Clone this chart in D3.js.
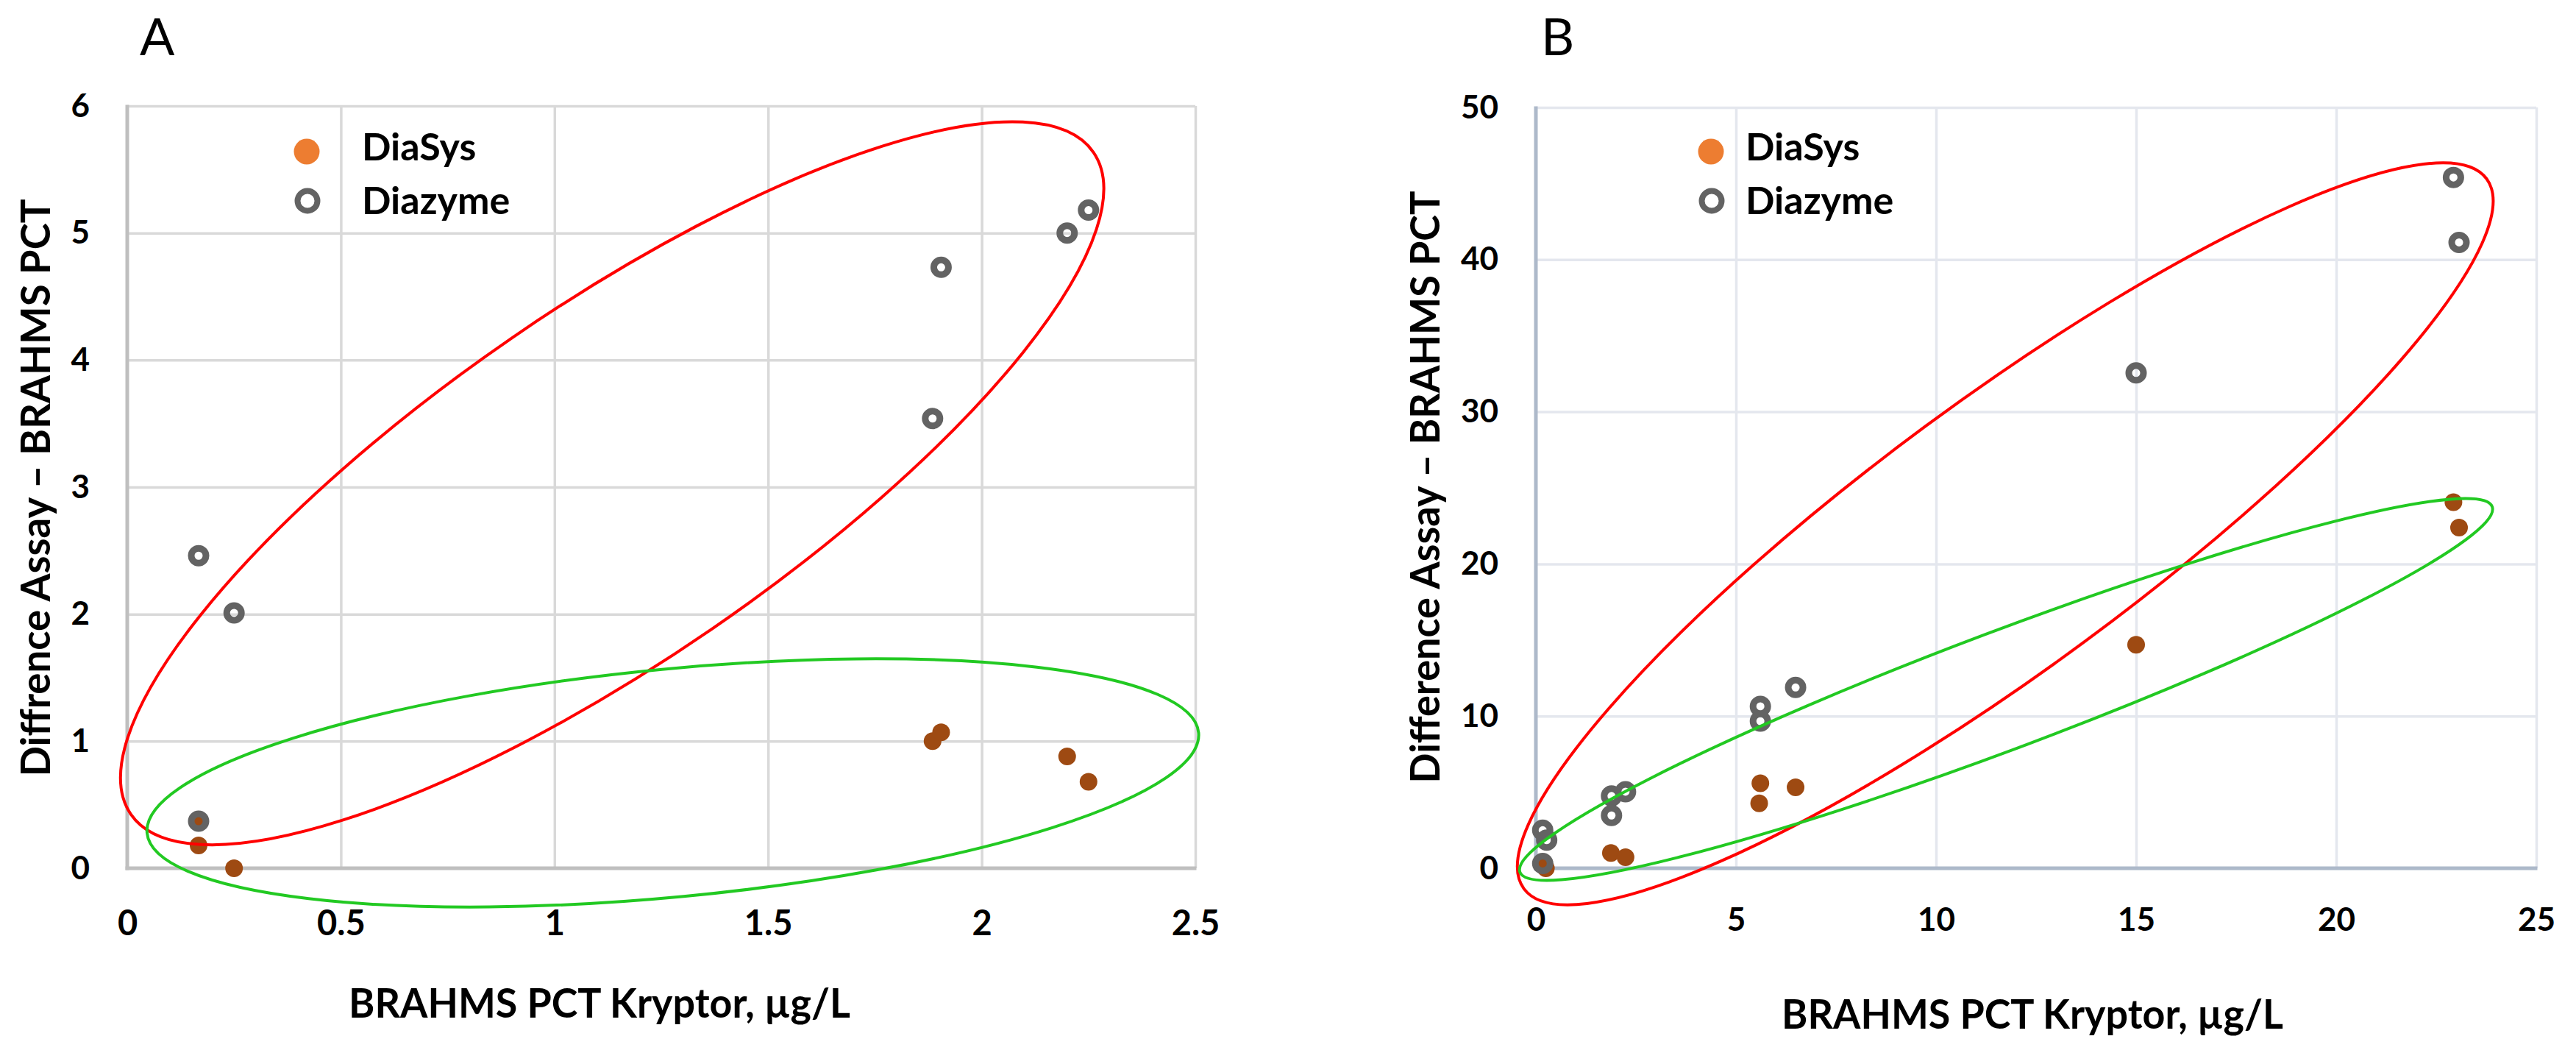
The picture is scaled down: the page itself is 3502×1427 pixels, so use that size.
<!DOCTYPE html>
<html>
<head>
<meta charset="utf-8">
<script src="https://cdn.jsdelivr.net/npm/d3@7"></script>
<style>
  body { margin: 0; background: #fff; }
  text { font-family: Lato, "Open Sans", sans-serif; }
</style>
</head>
<body>
<script>
// ---- data ----
// panel A
var aXTicks = [0, 0.5, 1, 1.5, 2, 2.5];
var aYTicks = [0, 1, 2, 3, 4, 5, 6];
var aDiaSysX = [0.167, 0.167, 0.25, 1.885, 1.905, 2.20, 2.25];
var aDiaSysY = [0.37, 0.18, 0.0, 1.0, 1.07, 0.88, 0.68];
var aDiazymeX = [0.167, 0.167, 0.25, 1.885, 1.905, 2.20, 2.25];
var aDiazymeY = [2.46, 0.37, 2.01, 3.54, 4.73, 5.0, 5.18];
// panel B
var bXTicks = [0, 5, 10, 15, 20, 25];
var bYTicks = [0, 10, 20, 30, 40, 50];
var bDiaSysX = [0.17, 0.25, 1.875, 2.24, 5.61, 5.58, 6.49, 15.0, 22.93, 23.07];
var bDiaSysY = [0.32, 0.0, 1.0, 0.73, 5.59, 4.27, 5.32, 14.69, 24.06, 22.39];
var bDiazymeX = [0.17, 0.27, 0.17, 1.89, 2.24, 1.89, 5.61, 5.61, 6.49, 15.0, 22.93, 23.07];
var bDiazymeY = [2.5, 1.85, 0.32, 4.75, 5.03, 3.47, 10.64, 9.67, 11.88, 32.55, 45.4, 41.13];
// cluster ellipse centres (data units)
var aRedCenter = [1.135, 3.03];
var aGreenCenter = [1.277, 0.672];
var bRedCenter = [11.73, 21.98];
var bGreenCenter = [11.75, 11.75];

var seriesNames = ["DiaSys", "Diazyme"];
var xTitle = "BRAHMS PCT Kryptor, µg/L";

function zip(xs, ys) { return xs.map(function(v, i){ return [v, ys[i]]; }); }

var svg = d3.select("body").append("svg")
    .attr("width", 3502)
    .attr("height", 1427);

var panels = [
  { letter: "A", letterX: 190,
    left: 173, right: 1625, top: 144, bottom: 1180,
    xDomain: [0, 2.5], yDomain: [0, 6], xTicks: aXTicks, yTicks: aYTicks,
    diasys: zip(aDiaSysX, aDiaSysY), diazyme: zip(aDiazymeX, aDiazymeY),
    grid: "#d9d9d9", axis: "#bfbfbf",
    xTickSize: 47, xTickPad: 58,
    yTitle: "Diffrence Assay \u2013 BRAHMS PCT", yTitleX: 68, yTitleY: 663, yTitleLen: 785,
    xTitleX: 815, xTitleY: 1383, xTitleLen: 682,
    legendDot: 417, legendText: 492,
    ellipses: [
      { c: aRedCenter, rx: 794, ry: 240, angle: 34.5, color: "#ff0000" },
      { c: aGreenCenter, rx: 718, ry: 155, angle: 5.45, color: "#22c922" }
    ] },
  { letter: "B", letterX: 2095,
    left: 2088, right: 3448, top: 146, bottom: 1180,
    xDomain: [0, 25], yDomain: [0, 50], xTicks: bXTicks, yTicks: bYTicks,
    diasys: zip(bDiaSysX, bDiaSysY), diazyme: zip(bDiazymeX, bDiazymeY),
    grid: "#e4e7ee", axis: "#adb9ca",
    xTickSize: 44, xTickPad: 54,
    yTitle: "Difference Assay \u2013 BRAHMS PCT", yTitleX: 1957, yTitleY: 662, yTitleLen: 805,
    xTitleX: 2763, xTitleY: 1398, xTitleLen: 682,
    legendDot: 2326, legendText: 2373,
    ellipses: [
      { c: bRedCenter, rx: 813, ry: 182, angle: 36.4, color: "#ff0000" },
      { c: bGreenCenter, rx: 706, ry: 80, angle: 20.6, color: "#22c922" }
    ] }
];

var plain = function(d){ return String(d); };

panels.forEach(function(p) {
  var x = d3.scaleLinear().domain(p.xDomain).range([p.left, p.right]);
  var y = d3.scaleLinear().domain(p.yDomain).range([p.bottom, p.top]);
  var g = svg.append("g");

  // gridlines
  g.append("g")
    .attr("transform", "translate(0," + p.bottom + ")")
    .call(d3.axisBottom(x).tickValues(p.xTicks.slice(1)).tickSize(-(p.bottom - p.top)).tickFormat(""))
    .call(function(s){ s.select(".domain").remove(); })
    .selectAll("line").attr("stroke", p.grid).attr("stroke-width", 3.5);
  g.append("g")
    .attr("transform", "translate(" + p.left + ",0)")
    .call(d3.axisLeft(y).tickValues(p.yTicks.slice(1)).tickSize(-(p.right - p.left)).tickFormat(""))
    .call(function(s){ s.select(".domain").remove(); })
    .selectAll("line").attr("stroke", p.grid).attr("stroke-width", 3.5);

  // axes with labels
  var xa = g.append("g")
    .attr("transform", "translate(0," + p.bottom + ")")
    .call(d3.axisBottom(x).tickValues(p.xTicks).tickFormat(plain)
      .tickSize(0).tickSizeOuter(0).tickPadding(p.xTickPad));
  xa.select(".domain").attr("stroke", p.axis).attr("stroke-width", 5)
    .attr("d", "M" + (p.left - 2.5) + ",0H" + (p.right + 1.5));
  xa.selectAll("text").attr("font-size", p.xTickSize).attr("font-weight", "bold").attr("fill", "#000")
    .attr("font-family", "Lato, sans-serif");

  var ya = g.append("g")
    .attr("transform", "translate(" + p.left + ",0)")
    .call(d3.axisLeft(y).tickValues(p.yTicks).tickFormat(plain)
      .tickSize(0).tickSizeOuter(0).tickPadding(51));
  ya.select(".domain").attr("stroke", p.axis).attr("stroke-width", 5)
    .attr("d", "M0," + (p.bottom + 2.5) + "V" + (p.top - 1.5));
  ya.selectAll("text").attr("font-size", 44).attr("font-weight", "bold").attr("fill", "#000")
    .attr("font-family", "Lato, sans-serif");

  // DiaSys dots (under the rings)
  g.append("g").selectAll("circle")
    .data(p.diasys).enter()
    .append("circle")
      .attr("cx", function(d){ return x(d[0]); })
      .attr("cy", function(d){ return y(d[1]); })
      .attr("r", 12)
      .attr("fill", "#9e4a12");

  // Diazyme rings
  g.append("g").selectAll("circle")
    .data(p.diazyme).enter()
    .append("circle")
      .attr("cx", function(d){ return x(d[0]); })
      .attr("cy", function(d){ return y(d[1]); })
      .attr("r", 10)
      .attr("fill", "none")
      .attr("stroke", "#636363")
      .attr("stroke-width", 9);

  // cluster ellipses
  p.ellipses.forEach(function(e) {
    g.append("ellipse")
      .attr("transform", "translate(" + x(e.c[0]) + "," + y(e.c[1]) + ") rotate(" + (-e.angle) + ")")
      .attr("rx", e.rx)
      .attr("ry", e.ry)
      .attr("fill", "none")
      .attr("stroke", e.color)
      .attr("stroke-width", 4);
  });

  // legend
  g.append("circle")
    .attr("cx", p.legendDot).attr("cy", 206).attr("r", 17.5)
    .attr("fill", "#ed7d31");
  g.append("circle")
    .attr("cx", p.legendDot + 1).attr("cy", 273).attr("r", 13.5)
    .attr("fill", "none").attr("stroke", "#636363").attr("stroke-width", 8);
  g.selectAll(".leg")
    .data(seriesNames).enter()
    .append("text")
      .attr("x", p.legendText)
      .attr("y", function(d, i){ return 218 + i * 73; })
      .attr("font-size", 52)
      .attr("font-weight", "bold")
      .text(function(d){ return d; });

  // panel letter
  g.append("text")
    .attr("x", p.letterX).attr("y", 75)
    .attr("font-size", 70)
    .text(p.letter);

  // axis titles
  g.append("text")
    .attr("text-anchor", "middle")
    .attr("x", p.xTitleX).attr("y", p.xTitleY)
    .attr("font-size", 55).attr("font-weight", "bold")
    .attr("textLength", p.xTitleLen).attr("lengthAdjust", "spacingAndGlyphs")
    .text(xTitle);
  g.append("text")
    .attr("text-anchor", "middle")
    .attr("transform", "translate(" + p.yTitleX + "," + p.yTitleY + ") rotate(-90)")
    .attr("font-size", 55).attr("font-weight", "bold")
    .attr("textLength", p.yTitleLen).attr("lengthAdjust", "spacingAndGlyphs")
    .text(p.yTitle);
});
</script>
</body>
</html>
